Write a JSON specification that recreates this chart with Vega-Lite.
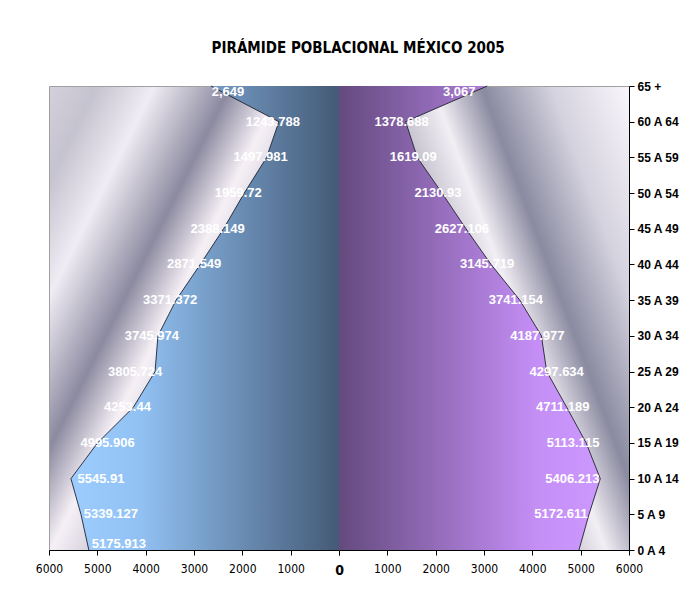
{
  "$schema": "https://vega.github.io/schema/vega-lite/v6.json",
  "background": "white",
  "padding": {"left": 34, "top": 40, "right": 0, "bottom": 0},
  "bounds": "flush",
  "title": {
    "text": "PIRÁMIDE POBLACIONAL MÉXICO 2005",
    "font": "DejaVu Sans Condensed, sans-serif",
    "fontSize": 15,
    "fontWeight": "bold",
    "color": "black",
    "anchor": "middle",
    "dx": 1,
    "offset": 24
  },
  "data": {
    "values": [
      {"sexo": "H", "edad": "0 A 4", "valor": 5175.913, "etiqueta": "5175.913"},
      {"sexo": "H", "edad": "5 A 9", "valor": 5339.127, "etiqueta": "5339.127"},
      {"sexo": "H", "edad": "10 A 14", "valor": 5545.91, "etiqueta": "5545.91"},
      {"sexo": "H", "edad": "15 A 19", "valor": 4995.906, "etiqueta": "4995.906"},
      {"sexo": "H", "edad": "20 A 24", "valor": 4253.44, "etiqueta": "4253.44"},
      {"sexo": "H", "edad": "25 A 29", "valor": 3805.724, "etiqueta": "3805.724"},
      {"sexo": "H", "edad": "30 A 34", "valor": 3745.974, "etiqueta": "3745.974"},
      {"sexo": "H", "edad": "35 A 39", "valor": 3371.372, "etiqueta": "3371.372"},
      {"sexo": "H", "edad": "40 A 44", "valor": 2871.549, "etiqueta": "2871.549"},
      {"sexo": "H", "edad": "45 A 49", "valor": 2388.149, "etiqueta": "2388.149"},
      {"sexo": "H", "edad": "50 A 54", "valor": 1959.72, "etiqueta": "1959.72"},
      {"sexo": "H", "edad": "55 A 59", "valor": 1497.981, "etiqueta": "1497.981"},
      {"sexo": "H", "edad": "60 A 64", "valor": 1243.788, "etiqueta": "1243.788"},
      {"sexo": "H", "edad": "65 +", "valor": 2649, "etiqueta": "2,649"},
      {"sexo": "M", "edad": "0 A 4", "valor": 4965, "etiqueta": ""},
      {"sexo": "M", "edad": "5 A 9", "valor": 5172.611, "etiqueta": "5172.611"},
      {"sexo": "M", "edad": "10 A 14", "valor": 5406.213, "etiqueta": "5406.213"},
      {"sexo": "M", "edad": "15 A 19", "valor": 5113.115, "etiqueta": "5113.115"},
      {"sexo": "M", "edad": "20 A 24", "valor": 4711.189, "etiqueta": "4711.189"},
      {"sexo": "M", "edad": "25 A 29", "valor": 4297.634, "etiqueta": "4297.634"},
      {"sexo": "M", "edad": "30 A 34", "valor": 4187.977, "etiqueta": "4187.977"},
      {"sexo": "M", "edad": "35 A 39", "valor": 3741.154, "etiqueta": "3741.154"},
      {"sexo": "M", "edad": "40 A 44", "valor": 3145.719, "etiqueta": "3145.719"},
      {"sexo": "M", "edad": "45 A 49", "valor": 2627.106, "etiqueta": "2627.106"},
      {"sexo": "M", "edad": "50 A 54", "valor": 2130.93, "etiqueta": "2130.93"},
      {"sexo": "M", "edad": "55 A 59", "valor": 1619.09, "etiqueta": "1619.09"},
      {"sexo": "M", "edad": "60 A 64", "valor": 1378.688, "etiqueta": "1378.688"},
      {"sexo": "M", "edad": "65 +", "valor": 3067, "etiqueta": "3,067"}
    ]
  },
  "spacing": 0,
  "hconcat": [
    {
      "width": 290,
      "height": 464,
      "view": {
        "stroke": "#a0a0a0",
        "strokeWidth": 1,
        "fill": {
          "gradient": "linear",
          "x1": 0, "y1": 0, "x2": 1, "y2": 0.8,
          "stops": [
            {"offset": 0, "color": "#d4d1dc"},
            {"offset": 0.1, "color": "#c6c3d0"},
            {"offset": 0.22, "color": "#f0ecf4"},
            {"offset": 0.38, "color": "#8c8aa0"},
            {"offset": 0.49, "color": "#f6f0f6"},
            {"offset": 0.7, "color": "#a4a2b4"},
            {"offset": 1, "color": "#e0dce8"}
          ]
        }
      },
      "transform": [{"filter": "datum.sexo == 'H'"}],
      "encoding": {
        "y": {
          "field": "edad",
          "type": "ordinal",
          "sort": ["65 +", "60 A 64", "55 A 59", "50 A 54", "45 A 49", "40 A 44", "35 A 39", "30 A 34", "25 A 29", "20 A 24", "15 A 19", "10 A 14", "5 A 9", "0 A 4"],
          "scale": {"type": "point", "padding": 0},
          "axis": null
        },
        "x": {
          "field": "valor",
          "type": "quantitative",
          "stack": null,
          "scale": {"domain": [0, 6000], "reverse": true, "nice": false},
          "axis": {
            "values": [0, 1000, 2000, 3000, 4000, 5000, 6000],
            "format": "d",
            "title": null,
            "grid": false,
            "domainColor": "black",
            "tickColor": "black",
            "tickSize": 5,
            "labelFont": "DejaVu Sans Condensed, sans-serif",
            "labelFontSize": 12,
            "labelColor": "black",
            "labelPadding": 8,
            "labelFlush": false,
            "labelOverlap": false,
            "labelExpr": "datum.value == 0 ? '' : datum.label"
          }
        }
      },
      "layer": [
        {
          "mark": {
            "type": "area",
            "orient": "horizontal",
            "color": {
              "gradient": "linear",
              "x1": 0, "y1": 0, "x2": 1, "y2": 0,
              "stops": [
                {"offset": 0, "color": "#9dcdff"},
                {"offset": 0.25, "color": "#92c2f4"},
                {"offset": 1, "color": "#445a76"}
              ]
            },
            "opacity": 1,
            "line": {"color": "#1e2230", "strokeWidth": 0.9}
          }
        },
        {
          "mark": {
            "type": "text",
            "color": "white",
            "font": "Liberation Sans, Arial, sans-serif",
            "fontSize": 13,
            "fontWeight": "bold",
            "align": "center",
            "baseline": "middle",
            "dx": {"expr": "indexof(['0 A 4','5 A 9','10 A 14'], datum.edad) >= 0 ? 30 : datum.edad == '65 +' ? 17 : datum.edad == '25 A 29' ? -20 : datum.edad == '15 A 19' ? 10 : -6"},
            "dy": {"expr": "datum.edad == '65 +' ? 6 : datum.edad == '0 A 4' ? -6 : 0"}
          },
          "encoding": {"text": {"field": "etiqueta"}}
        }
      ]
    },
    {
      "width": 290,
      "height": 464,
      "view": {
        "stroke": "#a0a0a0",
        "strokeWidth": 1,
        "fill": {
          "gradient": "linear",
          "x1": 1, "y1": 0, "x2": 0, "y2": 0.6,
          "stops": [
            {"offset": 0, "color": "#faf6fc"},
            {"offset": 0.2, "color": "#d4d2de"},
            {"offset": 0.375, "color": "#8a8aa0"},
            {"offset": 0.5, "color": "#f2eef4"},
            {"offset": 0.7, "color": "#a09eb0"},
            {"offset": 1, "color": "#dcd8e4"}
          ]
        }
      },
      "transform": [{"filter": "datum.sexo == 'M'"}],
      "encoding": {
        "y": {
          "field": "edad",
          "type": "ordinal",
          "sort": ["65 +", "60 A 64", "55 A 59", "50 A 54", "45 A 49", "40 A 44", "35 A 39", "30 A 34", "25 A 29", "20 A 24", "15 A 19", "10 A 14", "5 A 9", "0 A 4"],
          "scale": {"type": "point", "padding": 0},
          "axis": {
            "orient": "right",
            "title": null,
            "grid": false,
            "domainColor": "black",
            "tickColor": "black",
            "tickSize": 5,
            "labelFont": "Liberation Sans, Arial, sans-serif",
            "labelFontSize": 12,
            "labelFontWeight": "bold",
            "labelColor": "black",
            "labelPadding": 3,
            "labelOverlap": false,
            "labelBaseline": "middle"
          }
        },
        "x": {
          "field": "valor",
          "type": "quantitative",
          "stack": null,
          "scale": {"domain": [0, 6000], "nice": false},
          "axis": {
            "values": [0, 1000, 2000, 3000, 4000, 5000, 6000],
            "format": "d",
            "title": null,
            "grid": false,
            "domainColor": "black",
            "tickColor": "black",
            "tickSize": 5,
            "labelFont": "DejaVu Sans Condensed, sans-serif",
            "labelFontSize": {"condition": {"test": "datum.value == 0", "value": 14}, "value": 12},
            "labelFontWeight": {"condition": {"test": "datum.value == 0", "value": "bold"}, "value": "normal"},
            "labelColor": "black",
            "labelPadding": 8,
            "labelFlush": false,
            "labelOverlap": false
          }
        }
      },
      "layer": [
        {
          "mark": {
            "type": "area",
            "orient": "horizontal",
            "color": {
              "gradient": "linear",
              "x1": 0, "y1": 0, "x2": 1, "y2": 0,
              "stops": [
                {"offset": 0, "color": "#644a7e"},
                {"offset": 0.75, "color": "#c48ef5"},
                {"offset": 1, "color": "#cc99ff"}
              ]
            },
            "opacity": 1,
            "line": {"color": "#1e2230", "strokeWidth": 0.9}
          }
        },
        {
          "mark": {
            "type": "text",
            "color": "white",
            "font": "Liberation Sans, Arial, sans-serif",
            "fontSize": 13,
            "fontWeight": "bold",
            "align": "center",
            "baseline": "middle",
            "dx": {"expr": "indexof(['5 A 9','10 A 14','65 +'], datum.edad) >= 0 ? -28 : datum.edad == '15 A 19' ? -13 : datum.edad == '25 A 29' ? 10 : -4"},
            "dy": {"expr": "datum.edad == '65 +' ? 6 : 0"}
          },
          "encoding": {"text": {"field": "etiqueta"}}
        }
      ]
    }
  ]
}
